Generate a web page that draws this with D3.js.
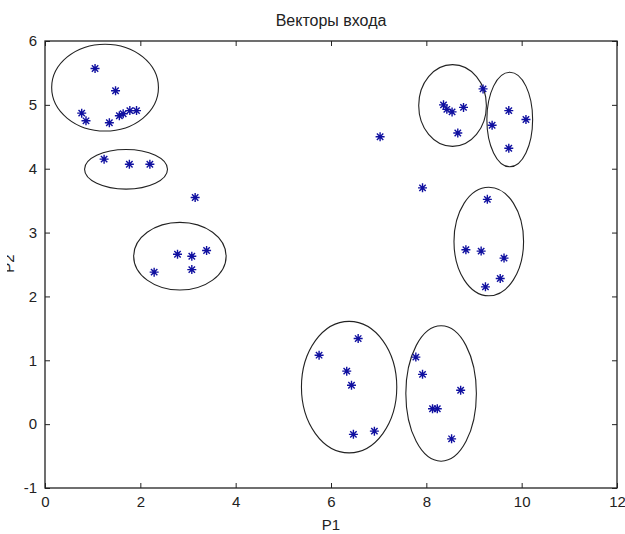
<!DOCTYPE html>
<html>
<head>
<meta charset="UTF-8">
<script src="https://d3js.org/d3.v7.min.js"></script>
<style>
  body { margin: 0; background: #fff; }
  text { font-family: "Liberation Sans", Arial, sans-serif; fill: #222; }
</style>
</head>
<body>
<svg id="ch" width="625" height="534"></svg>
<script>
// input vectors (P1, P2)
var p1 = [1.05, 1.48, 0.77, 0.86, 1.35, 1.56, 1.64, 1.78, 1.92,
          1.24, 1.77, 2.20,
          3.15,
          2.78, 3.08, 3.39, 2.29, 3.08,
          7.03, 7.92,
          8.36, 8.43, 8.54, 8.78, 8.66, 9.19,
          9.73, 10.09, 9.38, 9.73,
          9.28, 8.83, 9.15, 9.63, 9.55, 9.24,
          5.75, 6.57, 6.33, 6.43, 6.47, 6.91,
          7.78, 7.92, 8.72, 8.13, 8.23, 8.53];
var p2 = [5.57, 5.22, 4.87, 4.75, 4.72, 4.83, 4.86, 4.91, 4.91,
          4.15, 4.07, 4.07,
          3.55,
          2.66, 2.63, 2.72, 2.38, 2.42,
          4.50, 3.70,
          5.00, 4.93, 4.89, 4.96, 4.56, 5.25,
          4.91, 4.77, 4.68, 4.32,
          3.52, 2.73, 2.71, 2.60, 2.28, 2.15,
          1.08, 1.34, 0.83, 0.61, -0.16, -0.11,
          1.05, 0.78, 0.53, 0.24, 0.24, -0.23];

// cluster ellipses: centre and radii in data units
var ellCx = [1.26, 1.70, 2.83, 8.55, 9.75, 9.31, 6.38, 8.31];
var ellCy = [5.27, 3.99, 2.63, 4.99, 4.77, 2.86, 0.58, 0.48];
var ellRx = [1.12, 0.87, 0.97, 0.71, 0.48, 0.73, 1.00, 0.74];
var ellRy = [0.68, 0.31, 0.53, 0.64, 0.74, 0.85, 1.03, 1.06];

var xTicks = [0, 2, 4, 6, 8, 10, 12];
var yTicks = [-1, 0, 1, 2, 3, 4, 5, 6];

var margin = { top: 41, right: 8, bottom: 46, left: 45 },
  width = 625 - margin.left - margin.right,
  height = 534 - margin.top - margin.bottom;

var svg = d3.select("#ch");
var g = svg.append("g")
  .attr("transform", "translate(" + margin.left + "," + margin.top + ")");

var x = d3.scaleLinear().domain([0, 12]).range([0, width]);
var y = d3.scaleLinear().domain([-1, 6]).range([height, 0]);
var fmt = function (d) { return String(d); };

// axes, MATLAB style: inward ticks, box on
function styleAxis(sel) {
  sel.select(".domain").remove();
  sel.selectAll("line").attr("stroke", "#222");
  sel.selectAll("text").style("font-size", "15px").attr("fill", "#222");
}
g.append("g").attr("transform", "translate(0," + height + ")")
  .call(d3.axisBottom(x).tickValues(xTicks).tickFormat(fmt).tickSizeInner(-5).tickSizeOuter(0).tickPadding(8))
  .call(styleAxis);
g.append("g")
  .call(d3.axisTop(x).tickValues(xTicks).tickSizeInner(-5).tickSizeOuter(0).tickFormat(""))
  .call(styleAxis);
g.append("g")
  .call(d3.axisLeft(y).tickValues(yTicks).tickFormat(fmt).tickSizeInner(-5).tickSizeOuter(0).tickPadding(8))
  .call(styleAxis);
g.append("g").attr("transform", "translate(" + width + ",0)")
  .call(d3.axisRight(y).tickValues(yTicks).tickSizeInner(-5).tickSizeOuter(0).tickFormat(""))
  .call(styleAxis);

g.append("rect")
  .attr("width", width).attr("height", height)
  .attr("fill", "none").attr("stroke", "#222").attr("stroke-width", 1.3);

// ellipses
g.selectAll("ellipse.cl")
  .data(ellCx)
  .enter().append("ellipse")
  .attr("class", "cl")
  .attr("cx", function (d, i) { return x(ellCx[i]); })
  .attr("cy", function (d, i) { return y(ellCy[i]); })
  .attr("rx", function (d, i) { return x(ellRx[i]) - x(0); })
  .attr("ry", function (d, i) { return y(0) - y(ellRy[i]); })
  .attr("fill", "none")
  .attr("stroke", "#222")
  .attr("stroke-width", 1.1);

// asterisk markers
var a = 4.5, b = 3.2;
var star = "M" + (-a) + ",0L" + a + ",0M0," + (-a) + "L0," + a +
  "M" + (-b) + "," + (-b) + "L" + b + "," + b + "M" + (-b) + "," + b + "L" + b + "," + (-b);
g.selectAll("path.pt")
  .data(p1)
  .enter().append("path")
  .attr("class", "pt")
  .attr("d", star)
  .attr("transform", function (d, i) { return "translate(" + x(p1[i]) + "," + y(p2[i]) + ")"; })
  .attr("fill", "none")
  .attr("stroke", "#1010a0")
  .attr("stroke-width", 1.4);

// labels
svg.append("text")
  .attr("x", margin.left + width / 2).attr("y", 26)
  .attr("text-anchor", "middle")
  .style("font-size", "16px")
  .text("Векторы входа");

svg.append("text")
  .attr("x", margin.left + width / 2).attr("y", 530)
  .attr("text-anchor", "middle")
  .style("font-size", "15px")
  .text("P1");

// y label is cut by the left edge of the picture
svg.append("clipPath").attr("id", "cut")
  .append("rect").attr("x", 7).attr("y", 0).attr("width", 40).attr("height", 534);
svg.append("g")
  .attr("clip-path", "url(#cut)")
  .append("text")
  .attr("transform", "translate(14," + (margin.top + height / 2 - 1) + ") rotate(-90)")
  .attr("text-anchor", "middle")
  .style("font-size", "15px")
  .text("P2");
</script>
</body>
</html>
